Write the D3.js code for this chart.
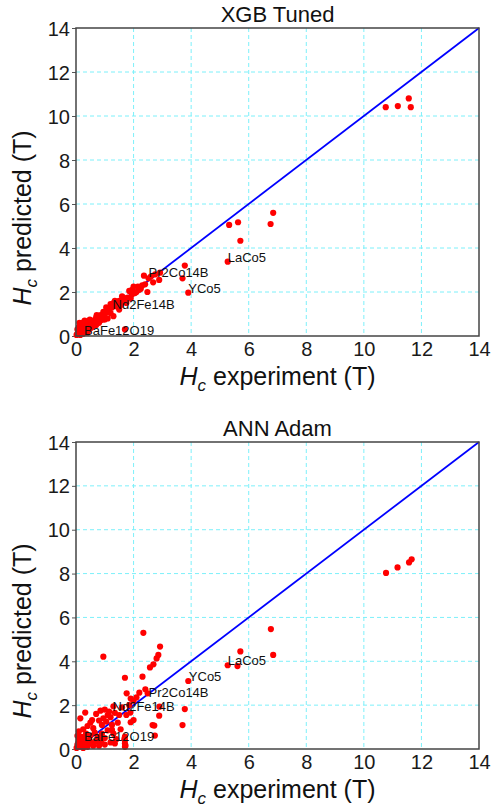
<!DOCTYPE html>
<html>
<head>
<meta charset="utf-8">
<script src="https://cdn.jsdelivr.net/npm/d3@7"></script>
<style>
  body { margin: 0; background: #fff; }
  text { font-family: "Liberation Sans", Arial, sans-serif; }
</style>
</head>
<body>
<svg id="vis"></svg>
<script>
//DATOS-------------------------------------------------------------------------------------------
const TICKS = [0, 2, 4, 6, 8, 10, 12, 14];

const XGB_EXP = [10.76, 11.18, 11.56, 11.63, 5.32, 5.63, 5.71, 6.76, 6.85, 5.27, 3.9, 3.78, 3.7,
  2.36, 2.68, 2.92, 2.89, 2.48, 2.6, 2.75, 2.52, 2.2, 2.3, 2.05, 1.9, 1.95, 1.8, 1.7, 1.75, 1.6,
  1.5, 1.45, 1.4, 1.3, 1.25, 1.2, 1.15, 1.1, 1.05, 1.0, 0.95, 0.9, 0.85, 0.8, 0.75, 0.7, 0.65,
  0.6, 0.55, 0.5, 0.45, 0.4, 0.35, 0.3, 0.25, 0.2, 0.15, 0.1, 0.05, 0.02, 0.1, 0.2, 0.3, 0.15,
  0.05, 1.7, 1.3, 1.5, 1.1, 0.5, 0.6, 0.35, 0.45, 0.7, 0.8, 1.0, 2.0, 2.1, 1.85, 1.6, 0.25, 0.15,
  0.4, 0.08, 0.12, 0.3, 1.35, 0.95, 0.55, 2.4, 2.15, 1.55, 0.65, 0.22, 0.38, 1.65, 1.2, 0.85,
  2.25, 1.95, 1.4, 0.72, 0.48];
const XGB_PRED = [10.4, 10.45, 10.8, 10.4, 5.05, 5.17, 4.33, 5.09, 5.6, 3.38, 1.97, 3.2, 2.62,
  2.74, 2.44, 2.88, 2.55, 2.0, 2.7, 2.8, 2.62, 2.1, 2.3, 1.95, 1.7, 1.9, 1.75, 1.67, 1.5, 1.55,
  1.6, 1.45, 1.35, 1.5, 1.3, 1.45, 1.2, 1.1, 1.3, 1.0, 1.1, 0.85, 0.95, 0.8, 0.7, 0.85, 0.6,
  0.7, 0.55, 0.65, 0.5, 0.45, 0.55, 0.4, 0.3, 0.35, 0.2, 0.15, 0.1, 0.05, 0.4, 0.6, 0.7, 0.5,
  0.3, 0.3, 0.9, 1.2, 0.8, 0.35, 0.45, 0.2, 0.3, 0.5, 0.6, 0.75, 2.25, 2.0, 2.05, 1.8, 0.1, 0.05,
  0.15, 0.2, 0.6, 0.65, 1.6, 0.75, 0.4, 2.35, 2.25, 1.4, 0.5, 0.55, 0.62, 1.75, 1.05, 0.7,
  2.15, 2.1, 1.55, 0.95, 0.75];

const ANN_EXP = [10.77, 11.17, 11.57, 11.66, 6.77, 6.85, 5.71, 5.27, 5.61, 3.9, 3.78, 3.7,
  2.34, 2.92, 2.86, 2.8, 2.69, 2.57, 0.95, 1.7, 2.31, 1.76, 2.2, 2.89, 2.66, 2.72, 1.9, 1.7,
  1.7, 1.7, 1.7, 2.49, 2.41, 2.9, 1.89, 2.0, 1.25, 2.74, 0.32, 0.15, 0.56, 0.7, 0.85, 1.0, 1.15,
  1.2, 0.8, 1.35, 1.5, 1.45, 0.9, 1.05, 1.25, 0.6, 0.4, 0.25, 0.1, 0.05, 0.2, 0.35, 0.5, 0.65,
  0.75, 0.9, 1.0, 1.1, 1.3, 0.45, 0.3, 0.15, 0.05, 0.1, 0.2, 0.35, 0.55, 0.7, 0.85, 1.0, 1.2,
  1.4, 0.6, 0.4, 0.25, 0.12, 0.02, 0.8, 1.55, 1.6, 1.85, 2.0, 2.1, 1.9, 1.75, 1.3, 1.1, 0.95,
  0.5, 1.35, 0.9, 1.72, 1.68, 0.3, 0.18, 0.08, 0.42];
const ANN_PRED = [8.03, 8.28, 8.51, 8.65, 5.47, 4.29, 4.45, 3.82, 3.78, 3.1, 1.82, 1.09,
  5.3, 4.67, 4.29, 4.13, 3.86, 3.72, 4.21, 3.25, 3.3, 2.54, 2.57, 1.52, 1.09, 1.07, 1.22, 0.56,
  0.25, 0.1, 0.4, 2.54, 2.72, 1.93, 1.66, 1.32, 0.87, 0.61, 1.66, 1.4, 1.32, 1.6, 1.75, 1.8, 1.7,
  1.45, 1.3, 1.65, 1.55, 1.2, 1.1, 1.25, 1.1, 0.95, 1.05, 0.9, 0.8, 0.6, 0.55, 0.7, 0.6, 0.75,
  0.55, 0.7, 0.5, 0.85, 0.7, 0.4, 0.35, 0.3, 0.2, 0.45, 0.15, 0.25, 0.3, 0.35, 0.3, 0.2, 0.3,
  0.45, 0.15, 0.1, 0.05, 0.1, 0.05, 0.15, 0.9, 1.9, 2.0, 2.2, 2.35, 2.3, 1.55, 1.95, 1.55, 1.4,
  1.2, 0.25, 0.45, 0.15, 0.45, 0.5, 0.4, 0.3, 0.2];

const NOMBRES = ["BaFe12O19", "Nd2Fe14B", "Pr2Co14B", "YCo5", "LaCo5"];
const XGB_ETQ_X = [0.28, 1.27, 2.52, 3.9, 5.27];
const XGB_ETQ_Y = [0.25, 1.45, 2.88, 2.17, 3.56];
const ANN_ETQ_X = [0.28, 1.27, 2.52, 3.92, 5.27];
const ANN_ETQ_Y = [0.56, 1.93, 2.57, 3.3, 4.03];

//CONSTANTES--------------------------------------------------------------------------------------
const WIDTH = 492;
const HEIGHT = 810;
const LEFT = 76;
const RIGHT = 479;
const RADIO = 3.1;
const GRILLA = "#7df0fa";
const svg = d3.select("#vis").attr("width", WIDTH).attr("height", HEIGHT);

//FUNCION PANEL-----------------------------------------------------------------------------------
function panel(titulo, top, bottom, expArr, predArr, etqX, etqY) {
  const escalaX = d3.scaleLinear().domain([0, 14]).range([LEFT, RIGHT]);
  const escalaY = d3.scaleLinear().domain([0, 14]).range([bottom, top]);
  const g = svg.append("g");

  // grilla
  g.selectAll(".gx")
    .data(TICKS.slice(1, -1))
    .join("line")
    .attr("x1", (d) => escalaX(d))
    .attr("x2", (d) => escalaX(d))
    .attr("y1", top)
    .attr("y2", bottom)
    .attr("stroke", GRILLA)
    .attr("stroke-dasharray", "4,3");
  g.selectAll(".gy")
    .data(TICKS.slice(1, -1))
    .join("line")
    .attr("y1", (d) => escalaY(d))
    .attr("y2", (d) => escalaY(d))
    .attr("x1", LEFT)
    .attr("x2", RIGHT)
    .attr("stroke", GRILLA)
    .attr("stroke-dasharray", "4,3");

  // ejes
  const ejeX = g
    .append("g")
    .attr("transform", `translate(0, ${bottom})`)
    .call(d3.axisBottom(escalaX).tickValues(TICKS).tickSize(0).tickPadding(6));
  const ejeY = g
    .append("g")
    .attr("transform", `translate(${LEFT}, 0)`)
    .call(d3.axisLeft(escalaY).tickValues(TICKS).tickSize(4).tickPadding(2));
  [ejeX, ejeY].forEach((e) => {
    e.select(".domain").remove();
    e.selectAll("text").style("font-size", "20px").attr("fill", "#1a1a1a");
    e.selectAll("line").attr("stroke", "#555");
  });
  ejeY.selectAll("text").attr("dy", "0.35em");

  // linea identidad
  g.append("line")
    .attr("x1", escalaX(0))
    .attr("y1", escalaY(0))
    .attr("x2", escalaX(14))
    .attr("y2", escalaY(14))
    .attr("stroke", "#0000ff")
    .attr("stroke-width", 1.8);

  // puntos
  g.selectAll("circle")
    .data(d3.range(expArr.length))
    .join("circle")
    .attr("cx", (i) => escalaX(expArr[i]))
    .attr("cy", (i) => escalaY(predArr[i]))
    .attr("r", RADIO)
    .attr("fill", "#ff0000");

  // etiquetas
  g.selectAll(".etq")
    .data(NOMBRES)
    .join("text")
    .attr("x", (d, i) => escalaX(etqX[i]))
    .attr("y", (d, i) => escalaY(etqY[i]))
    .attr("dy", "0.35em")
    .style("font-size", "13px")
    .attr("fill", "#111")
    .text((d) => d);

  // caja
  g.append("rect")
    .attr("x", LEFT)
    .attr("y", top)
    .attr("width", RIGHT - LEFT)
    .attr("height", bottom - top)
    .attr("fill", "none")
    .attr("stroke", "#444")
    .attr("stroke-width", 1.5);

  // titulo
  svg.append("text")
    .attr("x", (LEFT + RIGHT) / 2)
    .attr("y", top - 6)
    .attr("text-anchor", "middle")
    .style("font-size", "22px")
    .attr("fill", "#111")
    .text(titulo);

  // etiqueta x
  const lx = svg.append("text")
    .attr("x", (LEFT + RIGHT) / 2)
    .attr("y", bottom + 49)
    .attr("text-anchor", "middle")
    .style("font-size", "25px")
    .attr("fill", "#111");
  lx.append("tspan").style("font-style", "italic").text("H");
  lx.append("tspan").style("font-style", "italic").style("font-size", "17px").attr("dy", 6).text("c");
  lx.append("tspan").attr("dy", -6).text(" experiment (T)");

  // etiqueta y
  const ly = svg.append("text")
    .attr("transform", `translate(31, ${bottom - 118}) rotate(-90)`)
    .attr("text-anchor", "middle")
    .style("font-size", "25px")
    .attr("fill", "#111");
  ly.append("tspan").style("font-style", "italic").text("H");
  ly.append("tspan").style("font-style", "italic").style("font-size", "17px").attr("dy", 6).text("c");
  ly.append("tspan").attr("dy", -6).text(" predicted (T)");
}

//CODIGO A EJECUTAR-------------------------------------------------------------------------------
panel("XGB Tuned", 28, 336, XGB_EXP, XGB_PRED, XGB_ETQ_X, XGB_ETQ_Y);
panel("ANN Adam", 442, 749, ANN_EXP, ANN_PRED, ANN_ETQ_X, ANN_ETQ_Y);
</script>
</body>
</html>
